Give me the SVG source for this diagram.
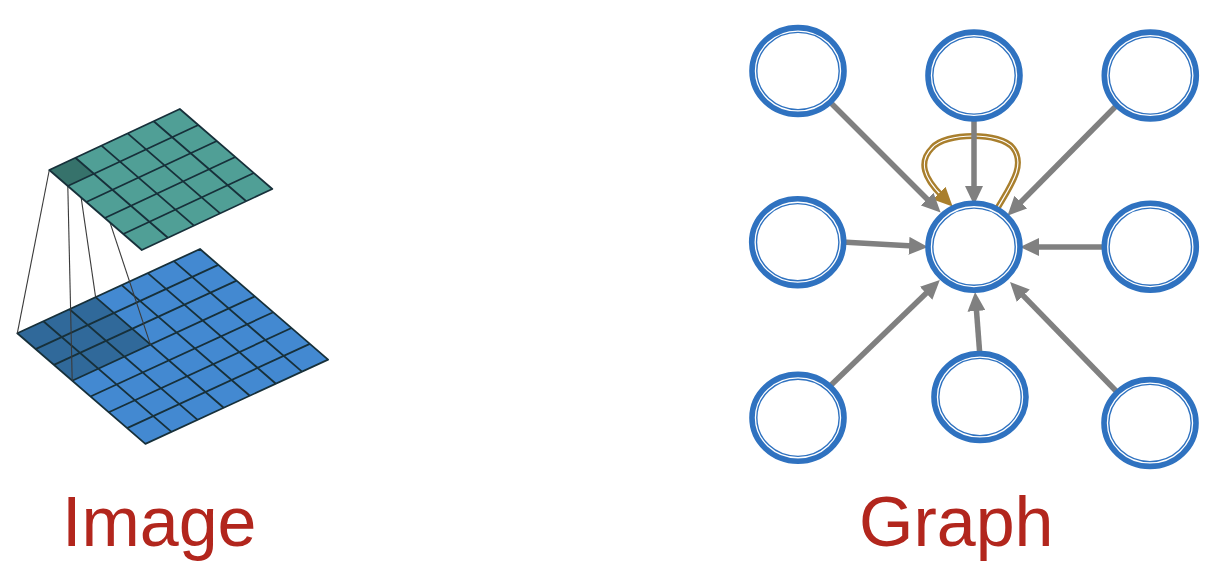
<svg xmlns="http://www.w3.org/2000/svg" width="1226" height="574" viewBox="0 0 1226 574">
<style>
.gl{fill:none;stroke:#17303a;stroke-width:1.8;vector-effect:non-scaling-stroke;stroke-linejoin:round}
.proj{stroke:#3a3a3a;stroke-width:1.1;fill:none}
.ring{fill:#fff;stroke:#2f72c0;stroke-width:5.6}
.inner{fill:none;stroke:#2f72c0;stroke-width:1.4}
.edge{stroke:#808080;stroke-width:5.5;fill:none;marker-end:url(#ah)}
.lbl{font-family:"Liberation Sans",Arial,sans-serif;font-size:70px;fill:#b2261d}
</style>
<defs>
<marker id="ah" markerUnits="userSpaceOnUse" markerWidth="20" markerHeight="18" refX="4" refY="9" orient="auto">
<path d="M0,0 L19,9 L0,18 z" fill="#808080"/>
</marker>
<marker id="ahg" markerUnits="userSpaceOnUse" markerWidth="20" markerHeight="18" refX="4" refY="9" orient="auto">
<path d="M0,0 L19,9 L0,18 z" fill="#a97f2d"/>
</marker>
<g id="node">
<ellipse class="ring" cx="0" cy="0" rx="46" ry="43.4"/>
<ellipse class="inner" cx="0" cy="0" rx="41.2" ry="38.6"/>
</g>
</defs>
<rect width="1226" height="574" fill="#fff"/>

<g id="image-figure">
<g id="input-grid" transform="matrix(26.1 -12.04 18.3 15.8 17.3 333.3)">
<rect x="0" y="0" width="7" height="7" fill="#4389d1"/>
<rect x="0" y="0" width="3" height="3" fill="#30699a"/>
<path class="gl" d="M0,0H7V7H0Z M0,1H7 M0,2H7 M0,3H7 M0,4H7 M0,5H7 M0,6H7 M1,0V7 M2,0V7 M3,0V7 M4,0V7 M5,0V7 M6,0V7"/>
</g>
<g id="projection-lines">
<line class="proj" x1="49.3" y1="170" x2="17.3" y2="333.3"/>
<line class="proj" x1="67.8" y1="186" x2="72.2" y2="380.7"/>
<line class="proj" x1="75.4" y1="157.8" x2="95.6" y2="297.2"/>
<line class="proj" x1="93.9" y1="173.8" x2="150.5" y2="344.8"/>
</g>
<g id="output-grid" transform="matrix(26.1 -12.2 18.5 16 49.3 170)">
<rect x="0" y="0" width="5" height="5" fill="#509f96"/>
<rect x="0" y="0" width="1" height="1" fill="#36726b"/>
<path class="gl" d="M0,0H5V5H0Z M0,1H5 M0,2H5 M0,3H5 M0,4H5 M1,0V5 M2,0V5 M3,0V5 M4,0V5"/>
</g>
<text class="lbl" x="62" y="546">Image</text>
</g>

<g id="connectors">
<g id="self-loop">
<path d="M997,209 C1011,185 1026,165 1013,148 C1001,132 945,132 932,148 C918,162 924,178 942,196" fill="none" stroke="#a97f2d" stroke-width="6"/>
<path d="M997,209 C1011,185 1026,165 1013,148 C1001,132 945,132 932,148 C918,162 924,178 942,196" fill="none" stroke="#fff" stroke-width="1.2"/>
<path d="M997,209 C1011,185 1026,165 1013,148 C1001,132 945,132 932,148 C918,162 924,178 942,196" fill="none" stroke="none" marker-end="url(#ahg)"/>
</g>
<line class="edge" x1="828" y1="100" x2="930" y2="202"/>
<line class="edge" x1="974" y1="116" x2="974" y2="190"/>
<line class="edge" x1="1118" y1="104" x2="1018" y2="205"/>
<line class="edge" x1="842" y1="242" x2="913" y2="246.1"/>
<line class="edge" x1="1107" y1="247" x2="1035" y2="247"/>
<line class="edge" x1="828" y1="388" x2="929" y2="290.5"/>
<line class="edge" x1="980" y1="357" x2="976.2" y2="307"/>
<line class="edge" x1="1118" y1="393" x2="1020.5" y2="292.8"/>
</g>

<g id="n-top-left"><use href="#node" x="798" y="71"/></g>
<g id="n-top-mid"><use href="#node" x="974" y="75.5"/></g>
<g id="n-top-right"><use href="#node" x="1150.3" y="75.5"/></g>
<g id="n-mid-left"><use href="#node" x="797.7" y="242.2"/></g>
<g id="n-center"><use href="#node" x="974" y="246.7"/></g>
<g id="n-mid-right"><use href="#node" x="1150.3" y="246.7"/></g>
<g id="n-bottom-left"><use href="#node" x="798" y="417.8"/></g>
<g id="n-bottom-mid"><use href="#node" x="980" y="397"/></g>
<g id="n-bottom-right"><use href="#node" x="1150" y="423"/></g>

<text class="lbl" x="859" y="546">Graph</text>
</svg>
